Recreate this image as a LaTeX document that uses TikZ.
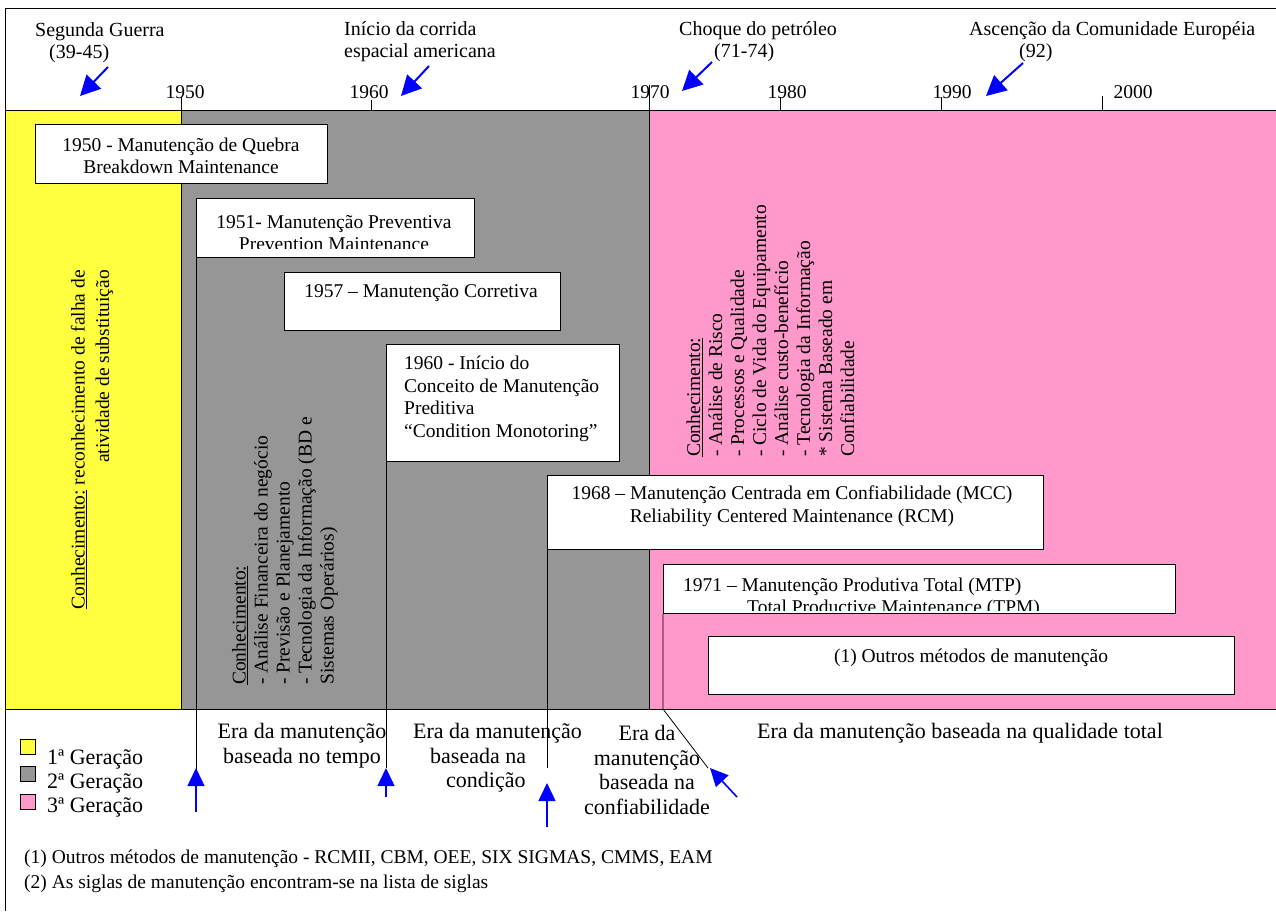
\documentclass[tikz,border=0pt]{standalone}
\usepackage{fontspec}
\setmainfont{Liberation Serif}
\usetikzlibrary{arrows.meta}
\definecolor{genyellow}{RGB}{255,255,64}
\definecolor{gengray}{RGB}{150,150,150}
\definecolor{genpink}{RGB}{255,153,204}
\definecolor{arrowblue}{RGB}{0,0,255}
\tikzset{
  box/.style={draw=black, fill=white, line width=0.8pt, inner sep=0pt, anchor=north west},
  boxtxt/.style={inner sep=0pt, font=\fontsize{19.5}{22.5}\selectfont},
  hdr/.style={inner sep=0pt, anchor=west, align=left, font=\fontsize{20}{22}\selectfont},
  yearlbl/.style={inner sep=0pt, font=\fontsize{19.5}{22}\selectfont},
  eralbl/.style={inner sep=0pt, font=\fontsize{22}{24.5}\selectfont},
  vtxt/.style={rotate=90, inner sep=0pt, font=\fontsize{19.5}{22}\selectfont},
  bluearrow/.style={draw=arrowblue, line width=1.6pt, -{Triangle[length=18pt,width=17pt]}},
  hdrarrow/.style={draw=arrowblue, line width=2pt, -{Triangle[length=20pt,width=20pt]}},
  conn/.style={draw=black, line width=0.8pt},
  tickmark/.style={draw=black, line width=0.8pt},
  legendsq/.style={draw=black, line width=0.6pt, minimum width=15pt, minimum height=15pt, inner sep=0pt, anchor=north west},
}
\begin{document}
\begin{tikzpicture}[x=1pt, y=-1pt]
\useasboundingbox[fill=white] (0,0) rectangle (1276,911);

% colour regions
\fill[genyellow] (5,110) rectangle (181,709);
\fill[gengray] (181,110) rectangle (649,709);
\fill[genpink] (649,110) rectangle (1276,709);
\draw[line width=0.8pt] (5,8) -- (1276,8);
\draw[line width=0.8pt] (5,8) -- (5,911);
\draw[line width=0.8pt] (5,110) -- (1276,110);
\draw[line width=0.8pt] (5,709) -- (1276,709);
\draw[line width=0.8pt] (181,110) -- (181,709);
\draw[line width=0.8pt] (649,110) -- (649,709);

% header events
\node[hdr] (guerra) at (35,43) {Segunda Guerra\\\hspace*{14pt}(39-45)};
\node[hdr] (corrida) at (344,42) {Início da corrida\\espacial americana};
\node[hdr] (choque) at (679,42) {Choque do petróleo\\\hspace*{35pt}(71-74)};
\node[hdr] (europa) at (969,42) {Ascenção da Comunidade Européia\\\hspace*{50pt}(92)};

\coordinate (ha1t) at (108,67); \coordinate (ha1h) at (80,96);
\coordinate (ha2t) at (429,66); \coordinate (ha2h) at (401,96);
\coordinate (ha3t) at (712,62); \coordinate (ha3h) at (682,91);
\coordinate (ha4t) at (1023,63); \coordinate (ha4h) at (986,96);
\draw[hdrarrow] (ha1t) -- (ha1h);
\draw[hdrarrow] (ha2t) -- (ha2h);
\draw[hdrarrow] (ha3t) -- (ha3h);
\draw[hdrarrow] (ha4t) -- (ha4h);

% years
\node[yearlbl] (y1950) at (185,92) {1950};
\node[yearlbl] (y1960) at (369,92) {1960};
\node[yearlbl] (y1970) at (650,92) {1970};
\node[yearlbl] (y1980) at (787,92) {1980};
\node[yearlbl] (y1990) at (952,92) {1990};
\node[yearlbl] (y2000) at (1133,92) {2000};
\draw[tickmark] (181,97) -- (181,110);
\draw[tickmark] (371,100) -- (371,110);
\draw[tickmark] (649,85) -- (649,110);
\draw[tickmark] (780,97) -- (780,110);
\draw[tickmark] (941,97) -- (941,110);
\draw[tickmark] (1102,96) -- (1102,110);

% vertical knowledge texts
\node[vtxt, align=right, anchor=east, font=\fontsize{19.5}{24.5}\selectfont] (know1) at (92,270)
  {\underline{Conhecimento:} reconhecimento de falha de\\atividade de substituição};
\node[vtxt, align=left, anchor=west] (know2) at (285,685)
  {\underline{Conhecimento:}\\- Análise Financeira do negócio\\- Previsão e Planejamento\\- Tecnologia da Informação (BD e\\Sistemas Operários)};
\node[vtxt, align=left, anchor=west] (know3) at (770.5,457)
  {\underline{Conhecimento:}\\- Análise de Risco\\- Processos e Qualidade\\- Ciclo de Vida do Equipamento\\- Análise custo-benefício\\- Tecnologia da Informação\\* Sistema Baseado em\\Confiabilidade};

% connector lines from boxes
\node[box, minimum width=278pt, minimum height=59pt] (boxB) at (196,198) {};
\node[box, minimum width=233pt, minimum height=117pt] (boxD) at (386,344) {};
\node[box, minimum width=496pt, minimum height=74pt] (boxE) at (547,475) {};
\node[box, minimum width=512pt, minimum height=49pt] (boxF) at (663,564) {};
\coordinate (endB) at (196,770);
\coordinate (endD) at (386,768);
\coordinate (endE) at (547,768);
\coordinate (bendF) at (663,709);
\coordinate (endF) at (708,768);
\draw[conn] (boxB.south west) -- (endB);
\draw[conn] (boxD.south west) -- (endD);
\draw[conn] (boxE.south west) -- (endE);
\draw[conn] (boxF.south west) -- (bendF) -- (endF);

% boxes
\node[box, minimum width=292pt, minimum height=59pt] (boxA) at (35,124) {};
\node[boxtxt, align=center] (txtA) at (181,156) {1950 - Manutenção de Quebra\\Breakdown Maintenance};
\begin{scope}
  \clip (196,198) rectangle (474,248);
  \node[boxtxt, align=center] (txtB) at (334,233) {1951- Manutenção Preventiva\\Prevention Maintenance};
\end{scope}
\node[box, minimum width=276pt, minimum height=58pt] (boxC) at (284,272) {};
\node[boxtxt] (txtC) at (421,293) {1957 – Manutenção Corretiva};
\node[boxtxt, align=left, anchor=west] (txtD) at (404,399) {1960 - Início do\\Conceito de Manutenção\\Preditiva\\“Condition Monotoring”};
\node[boxtxt, align=center] (txtE) at (792,506) {1968 – Manutenção Centrada em Confiabilidade (MCC)\\Reliability Centered Maintenance (RCM)};
\begin{scope}
  \clip (663,564) rectangle (1175,610);
  \node[boxtxt, align=left, anchor=west] (txtF) at (683,598) {1971 – Manutenção Produtiva Total (MTP)\\\hspace*{64pt}Total Productive Maintenance (TPM)};
\end{scope}
\node[box, minimum width=526pt, minimum height=58pt] (boxG) at (708,636) {};
\node[boxtxt] (txtG) at (971,658) {(1) Outros métodos de manutenção};

% blue arrows at bottom
\coordinate (ba1t) at (196,812); \coordinate (ba1h) at (196,768);
\coordinate (ba2t) at (386,797); \coordinate (ba2h) at (386,768);
\coordinate (ba3t) at (547,827); \coordinate (ba3h) at (547,783);
\coordinate (ba4t) at (737,797); \coordinate (ba4h) at (710,768);
\draw[bluearrow] (ba1t) -- (ba1h);
\draw[bluearrow] (ba2t) -- (ba2h);
\draw[bluearrow] (ba3t) -- (ba3h);
\draw[bluearrow] (ba4t) -- (ba4h);

% era labels
\node[eralbl, align=center] (era1) at (302,745.5) {Era da manutenção\\baseada no tempo};
\node[eralbl, align=left, anchor=west] (era2) at (413,758) {Era da manutenção\\\hspace*{17pt}baseada na\\\hspace*{33pt}condição};
\node[eralbl, align=center] (era3) at (647,770) {Era da\\manutenção\\baseada na\\confiabilidade};
\node[eralbl, anchor=west] (era4) at (757,733) {Era da manutenção baseada na qualidade total};

% legend
\node[legendsq, fill=genyellow] (sq1) at (20,739) {};
\node[legendsq, fill=gengray] (sq2) at (20,766) {};
\node[legendsq, fill=genpink] (sq3) at (20,794) {};
\node[eralbl, anchor=west] (lg1) at (47,759) {1ª Geração};
\node[eralbl, anchor=west] (lg2) at (47,783) {2ª Geração};
\node[eralbl, anchor=west] (lg3) at (47,807) {3ª Geração};

% footnotes
\node[inner sep=0pt, anchor=west, align=left, font=\fontsize{19.5}{25}\selectfont] (notes) at (24,871.5)
  {(1) Outros métodos de manutenção - RCMII, CBM, OEE, SIX SIGMAS, CMMS, EAM\\(2) As siglas de manutenção encontram-se na lista de siglas};
\end{tikzpicture}
\end{document}
